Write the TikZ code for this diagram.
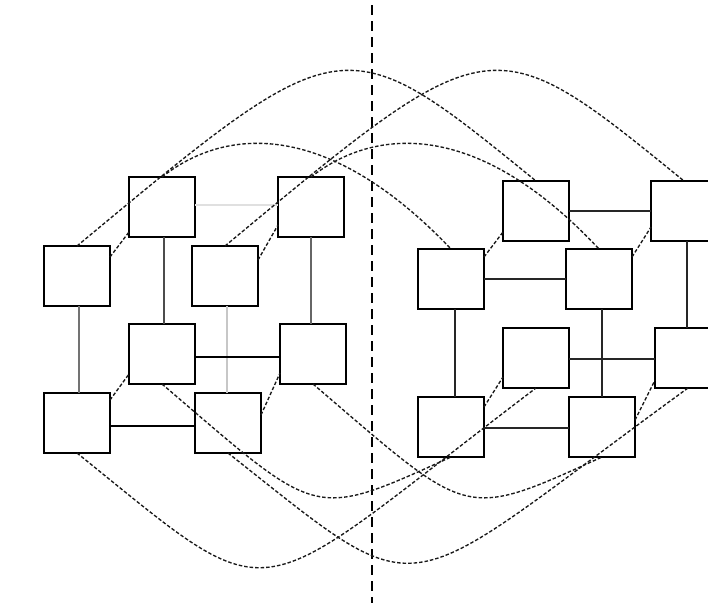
\documentclass[tikz,border=0pt]{standalone}
\begin{document}
\begin{tikzpicture}[x=1pt,y=-1pt,
  box/.style={draw=black, line width=1.8pt, minimum width=66pt, minimum height=60pt, inner sep=0pt, outer sep=0pt},
  link/.style={line width=1.4pt, black!85},
  faint/.style={line width=1.2pt, black!22},
  cut/.style={line width=1.35pt, dash pattern=on 3.5pt off 2pt, black!90},
  part/.style={line width=2pt, dash pattern=on 10pt off 6pt}]
\clip (0,0) rectangle (708,603);
\fill[white] (0,0) rectangle (708,603);
% left cube
\node[box] (la) at (162,207) {};
\node[box] (lb) at (311,207) {};
\node[box] (lc) at (77,276) {};
\node[box] (ld) at (225,276) {};
\node[box] (le) at (162,354) {};
\node[box] (lf) at (313,354) {};
\node[box] (lg) at (77,423) {};
\node[box] (lh) at (228,423) {};
% right cube
\node[box] (ra) at (536,211) {};
\node[box] (rb) at (684,211) {};
\node[box] (rc) at (451,279) {};
\node[box] (rd) at (599,279) {};
\node[box] (re) at (536,358) {};
\node[box] (rf) at (688,358) {};
\node[box] (rg) at (451,427) {};
\node[box] (rh) at (602,427) {};
% partition
\coordinate (ptop) at (372,5);
\coordinate (pbot) at (372,603);
\draw[part] (ptop) -- (pbot);
% solid edges left
\draw[link, black!55, line width=1.1pt] ([xshift=2pt]lc.south) -- ([xshift=2pt]lg.north);
\draw[link, black!70, line width=1.1pt] ([xshift=2pt]la.south) -- ([xshift=2pt]le.north);
\draw[link, black!60, line width=2pt] (lb.south) -- (lb.south |- lf.north);
\draw[faint] ([xshift=-1pt]lh.north |- ld.south) -- ([xshift=-1pt]lh.north);
\draw[link, black] ([yshift=-3pt]lg.east) -- ([yshift=-3pt]lh.west);
\draw[link, black] ([yshift=-3pt]le.east) -- ([yshift=-3pt]lf.west);
\draw[faint, black!12] ([yshift=2pt]la.east) -- ([yshift=2pt]lb.west);
% solid edges right
\draw[link] (ra.east) -- (rb.west);
\draw[link] (rc.east) -- (rd.west);
\draw[link] ([xshift=4pt]rc.south) -- ([xshift=4pt]rg.north);
\draw[link] (rh.north |- rd.south) -- (rh.north);
\draw[link] ([xshift=3pt]rb.south) -- ([xshift=3pt]rb.south |- rf.north);
\draw[link] ([yshift=-1pt]re.east) -- ([yshift=-1pt]rf.west);
\draw[link] ([yshift=-1pt]rg.east) -- ([yshift=-1pt]rh.west);
% depth edges (dashed)
\draw[cut] ([yshift=-11pt]lc.north east) -- ([yshift=5pt]la.south west);
\draw[cut] ([yshift=-14pt]ld.north east) -- ([yshift=12pt]lb.south west);
\draw[cut] ([yshift=-7pt]lg.north east) -- ([yshift=10pt]le.south west);
\draw[cut] ([yshift=-22pt]lh.north east) -- ([yshift=11pt]lf.south west);
\draw[cut] ([yshift=-8pt]rc.north east) -- ([yshift=9pt]ra.south west);
\draw[cut] ([yshift=-8pt]rd.north east) -- ([yshift=14pt]rb.south west);
\draw[cut] ([yshift=-10pt]rg.north east) -- ([yshift=11pt]re.south west);
\draw[cut] ([yshift=-23pt]rh.north east) -- ([yshift=8pt]rf.south west);
% crossing arcs, top
\draw[cut] (lc.north) .. controls (344,24) and (343,24) .. (ra.north);
\draw[cut] (ld.north) .. controls (492,24) and (491,24) .. (rb.north);
\draw[cut] (la.north) .. controls (228,125) and (330,122) .. (rc.north);
\draw[cut] (lb.north) .. controls (378,125) and (480,122) .. (rd.north);
% crossing arcs, bottom
\draw[cut] (lg.south) .. controls (284,620) and (243,610) .. (re.south);
\draw[cut] (le.south) .. controls (320,519) and (310,521) .. (rg.south);
\draw[cut] (lh.south) .. controls (432,614) and (391,604) .. (rf.south);
\draw[cut] (lf.south) .. controls (471,519) and (461,521) .. (rh.south);
\end{tikzpicture}
\end{document}
